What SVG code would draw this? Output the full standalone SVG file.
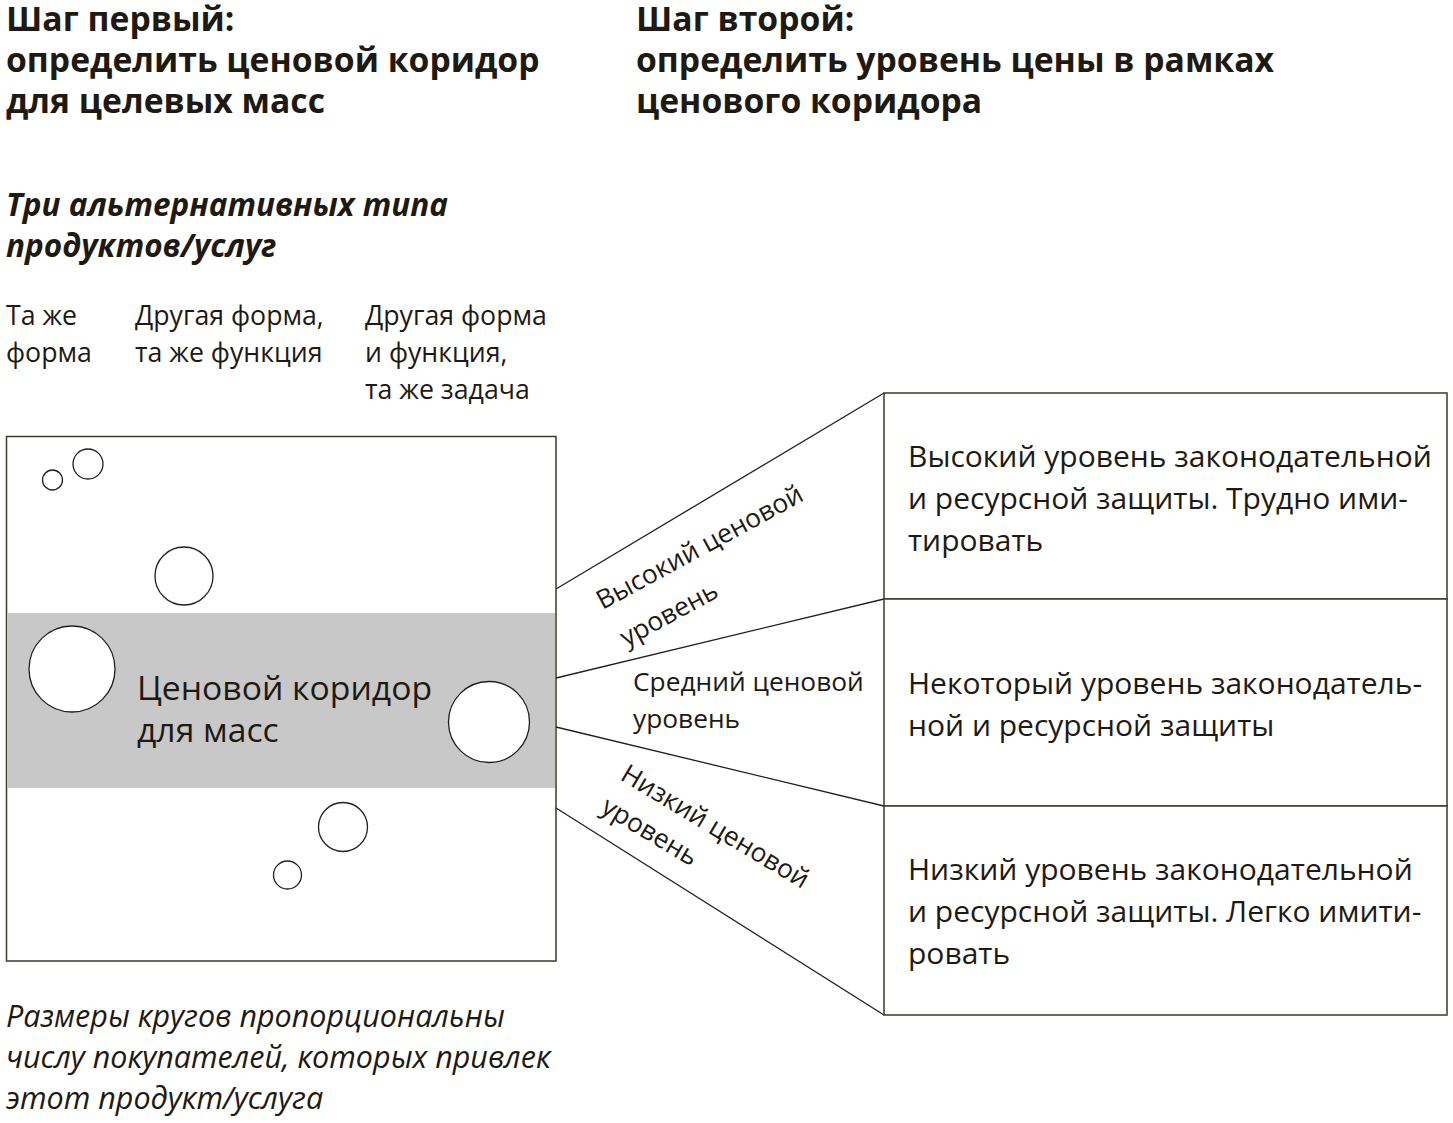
<svg xmlns="http://www.w3.org/2000/svg" width="1453" height="1123" viewBox="0 0 1453 1123">
<style>
text{font-family:"Open Sans","Noto Sans","Liberation Sans",sans-serif;fill:#1e1a12}
.h{font-weight:700;font-size:33.7px}
.hi{font-weight:700;font-style:italic;font-size:31.5px}
.col{font-size:26.7px}
.body{font-size:30px}
.lbl{font-size:26.3px}
.cor{font-size:33.7px}
.foot{font-style:italic;font-size:30.5px}
.ln{stroke:#231f20;stroke-width:1.3;fill:none}
.box{fill:#fff;stroke:#3a3a30;stroke-width:1.5}
.c{fill:#fff;stroke:#231f20;stroke-width:1.3}
</style>
<rect width="1453" height="1123" fill="#fff"/>
<g id="header-step1">
<text class="h" x="6" y="31">Шаг первый:<tspan x="6" y="72">определить ценовой коридор</tspan><tspan x="6" y="113">для целевых масс</tspan></text>
</g>
<g id="header-step2">
<text class="h" x="636" y="31">Шаг второй:<tspan x="636" y="72">определить уровень цены в рамках</tspan><tspan x="636" y="113">ценового коридора</tspan></text>
</g>
<g id="subtitle">
<text class="hi" x="6" y="216">Три альтернативных типа<tspan x="6" y="257">продуктов/услуг</tspan></text>
</g>
<g id="columns">
<text class="col" x="6" y="325">Та же<tspan x="6" y="362">форма</tspan></text>
<text class="col" x="135" y="325">Другая форма,<tspan x="135" y="362">та же функция</tspan></text>
<text class="col" x="365" y="325">Другая форма<tspan x="365" y="362">и функция,</tspan><tspan x="365" y="399">та же задача</tspan></text>
</g>
<g id="market-box">
<rect class="box" x="6.5" y="436.5" width="549.5" height="524.5"/>
<rect x="7.5" y="613" width="547.5" height="175" fill="#c8c8c8"/>
<circle class="c" cx="52.5" cy="480" r="10"/>
<circle class="c" cx="88" cy="464" r="15"/>
<circle class="c" cx="184" cy="576" r="29"/>
<circle class="c" cx="72" cy="669" r="43"/>
<circle class="c" cx="489" cy="722" r="40.5"/>
<circle class="c" cx="343" cy="827" r="24.5"/>
<circle class="c" cx="287.5" cy="875" r="14"/>
<text class="cor" x="137" y="700">Ценовой коридор<tspan x="137" y="742">для масс</tspan></text>
</g>
<g id="connectors">
<line class="ln" x1="556" y1="589" x2="884" y2="393"/>
<line class="ln" x1="556" y1="678" x2="884" y2="599"/>
<line class="ln" x1="556" y1="727" x2="884" y2="806"/>
<line class="ln" x1="556" y1="808" x2="884" y2="1015"/>
</g>
<g id="label-high">
<text class="lbl" transform="translate(602.5,610) rotate(-28.5)">Высокий ценовой<tspan x="3" y="44">уровень</tspan></text>
</g>
<g id="label-mid">
<text class="lbl" x="633" y="691">Средний ценовой<tspan x="633" y="728">уровень</tspan></text>
</g>
<g id="label-low">
<text class="lbl" transform="translate(619,779) rotate(31)">Низкий ценовой<tspan x="0" y="38">уровень</tspan></text>
</g>
<g id="level-high">
<rect class="box" x="884" y="393" width="563" height="206"/>
<text class="body" x="908" y="467">Высокий уровень законодательной<tspan x="908" y="509">и ресурсной защиты. Трудно  ими-</tspan><tspan x="908" y="551">тировать</tspan></text>
</g>
<g id="level-mid">
<rect class="box" x="884" y="599" width="563" height="207"/>
<text class="body" x="908" y="694">Некоторый уровень законодатель-<tspan x="908" y="736">ной и ресурсной защиты</tspan></text>
</g>
<g id="level-low">
<rect class="box" x="884" y="806" width="563" height="209"/>
<text class="body" x="908" y="880">Низкий уровень законодательной<tspan x="908" y="922">и ресурсной защиты. Легко имити-</tspan><tspan x="908" y="964">ровать</tspan></text>
</g>
<g id="footnote">
<text class="foot" x="6" y="1027">Размеры кругов пропорциональны<tspan x="6" y="1068">числу покупателей, которых привлек</tspan><tspan x="6" y="1109">этот продукт/услуга</tspan></text>
</g>
</svg>
